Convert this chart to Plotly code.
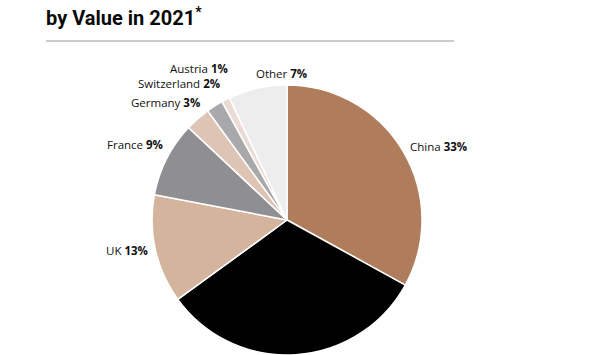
import math
import plotly.graph_objects as go

countries = ["China", "US", "UK", "France", "Germany", "Switzerland", "Austria", "Other"]
shares = [33, 32, 13, 9, 3, 2, 1, 7]
colors = ["#B07D5C", "#000000", "#D5B49D", "#8F8E92", "#DEC4B4", "#A9A9AB", "#EADCD5", "#EDEDED"]
show_label = [True, False, True, True, True, True, True, True]
# label radius factor (relative to pie radius), anchor and pixel nudges
label_r = [1.06, 1.06, 1.06, 1.06, 1.06, 1.06, 1.19, 1.12]
label_anchor = ["left", "center", "right", "right", "right", "right", "right", "center"]
label_dx = [-2, 0, 3, 6, 10, 12, 16, 27]
label_dy = [-1, 0, -1, -11, -10, -16, -8, 1]

W, H = 600, 355
cx, cy, R = 287, 220, 135  # pixel geometry of pie

fig = go.Figure(go.Pie(
    labels=countries, values=shares, sort=False, direction="clockwise", rotation=0,
    marker=dict(colors=colors, line=dict(color="white", width=1.5)),
    textinfo="none", hoverinfo="label+percent", showlegend=False,
    domain=dict(x=[(cx - R) / W, (cx + R) / W], y=[0, 2 * R / H]),
))

total = sum(shares)
cum = 0
for name, v, show, rf, anc, dx, dy in zip(countries, shares, show_label, label_r,
                                          label_anchor, label_dx, label_dy):
    mid = (cum + v / 2) / total * 2 * math.pi
    cum += v
    if not show:
        continue
    px = cx + rf * R * math.sin(mid) + dx
    py = cy - rf * R * math.cos(mid) + dy
    fig.add_annotation(
        x=px / W, y=1 - py / H, xref="paper", yref="paper",
        text=f"{name} <b>{v}%</b>", showarrow=False,
        xanchor=anc, yanchor="middle",
        font=dict(family="Open Sans", size=11.5, color="#111111"),
    )

fig.add_annotation(
    x=44 / W, y=1 - 17 / H, xref="paper", yref="paper", xanchor="left", yanchor="middle",
    text="<b>by Value in 2021<sup>*</sup></b>", showarrow=False,
    font=dict(family="Roboto", size=20, color="#0a0a0a"),
)
fig.add_shape(type="line", xref="paper", yref="paper",
              x0=46 / W, x1=454 / W, y0=1 - 41 / H, y1=1 - 41 / H,
              line=dict(color="#CCCCCC", width=2))

fig.update_layout(
    width=W, height=H, margin=dict(l=0, r=0, t=0, b=0),
    paper_bgcolor="white", plot_bgcolor="white",
)
fig.write_html("out.html", config={"displayModeBar": False},
               post_script="document.body.style.margin='0';document.body.style.overflow='hidden';")
